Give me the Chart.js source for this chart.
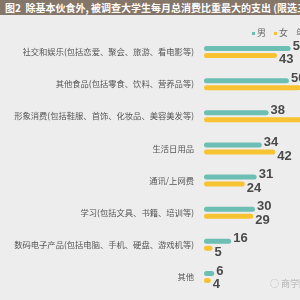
<!DOCTYPE html>
<html>
<head>
<meta charset="utf-8">
<script src="https://cdn.jsdelivr.net/npm/chart.js@4/dist/chart.umd.min.js"></script>
<style>
  html, body { margin: 0; padding: 0; width: 300px; height: 300px; overflow: hidden; background: #ededed; }
  #wrap { position: relative; width: 300px; height: 300px; overflow: hidden; }
  #title { position: absolute; left: 0; top: 0; width: 300px; height: 15px; background: #85766a; color: #fff;
    font: bold 10px "Noto Sans CJK SC", sans-serif; line-height: 15px; white-space: nowrap; overflow: hidden; padding-left: 5px; box-sizing: border-box; }
  #legend { position: absolute; top: 27px; left: 0; width: 300px; height: 12px; font: 9px "Noto Sans CJK SC", sans-serif; color: #666; white-space: nowrap; }
  .li { position: absolute; top: 0; line-height: 12px; }
  .sw { display: inline-block; width: 3px; height: 3px; margin-right: 2px; vertical-align: middle; }
  #wm { position: absolute; left: 270px; top: 277px; font: 9px "Noto Sans CJK SC", sans-serif; color: #b0b0b0; white-space: nowrap; }
  canvas { position: absolute; left: 0; top: 0; }
</style>
</head>
<body>
<div id="wrap">
  <canvas id="c" width="300" height="300"></canvas>
  <div id="title">图2&nbsp;&nbsp;除基本伙食外, 被调查大学生每月总消费比重最大的支出 (限选三项)</div>
  <div id="legend"></div>
  <div id="wm">◌ 商学院</div>
</div>
<script>
const categories = [
  "社交和娱乐(包括恋爱、聚会、旅游、看电影等)",
  "其他食品(包括零食、饮料、营养品等)",
  "形象消费(包括鞋服、首饰、化妆品、美容美发等)",
  "生活日用品",
  "通讯/上网费",
  "学习(包括文具、书籍、培训等)",
  "数码电子产品(包括电脑、手机、硬盘、游戏机等)",
  "其他"
];
const seriesNames = ["男", "女"];
const maleValues = [51, 50, 38, 34, 31, 30, 16, 6];
const femaleValues = [43, 57, 59, 42, 24, 29, 5, 4];
const seriesColors = ["#6cbfb2", "#f8c332"];
const unitLabel = "单位：%";

// HTML legend
const legend = document.getElementById('legend');
const legendX = [252, 274];
seriesNames.forEach((n, i) => {
  const s = document.createElement('span');
  s.className = 'li';
  s.style.left = legendX[i] + 'px';
  s.innerHTML = '<span class="sw" style="background:' + seriesColors[i] + '"></span>' + n;
  legend.appendChild(s);
});
const u = document.createElement('span');
u.className = 'li';
u.style.left = '296px';
u.textContent = unitLabel;
legend.appendChild(u);

const valueLabels = {
  id: 'valueLabels',
  afterDatasetsDraw(chart) {
    const ctx = chart.ctx;
    ctx.save();
    ctx.font = 'bold 13px "Liberation Sans", Arial, sans-serif';
    ctx.fillStyle = '#4a4a4a';
    ctx.textAlign = 'left';
    ctx.textBaseline = 'middle';
    chart.data.datasets.forEach((ds, di) => {
      const meta = chart.getDatasetMeta(di);
      meta.data.forEach((bar, i) => {
        const dy = di === 0 ? -2.5 : 4;
        ctx.fillText(String(ds.data[i]), bar.x + 2, bar.y + dy);
      });
    });
    ctx.restore();
  }
};

new Chart(document.getElementById('c'), {
  type: 'bar',
  data: {
    labels: categories,
    datasets: [
      { label: seriesNames[0], data: maleValues, backgroundColor: seriesColors[0] },
      { label: seriesNames[1], data: femaleValues, backgroundColor: seriesColors[1] }
    ]
  },
  options: {
    indexAxis: 'y',
    responsive: false,
    animation: false,
    devicePixelRatio: 1,
    categoryPercentage: 0.4375,
    barPercentage: 0.72,
    datasets: { bar: { borderRadius: 3, borderSkipped: false } },
    layout: { padding: { top: 36, bottom: 7, left: 0, right: 0 } },
    plugins: { legend: { display: false }, title: { display: false }, tooltip: { enabled: false } },
    scales: {
      x: { display: false, min: 0, max: 56.5 },
      y: {
        grid: { display: false },
        border: { display: false },
        ticks: { color: '#555', padding: 2, font: { size: 8.3, family: '"Noto Sans CJK SC", sans-serif' } },
        afterFit(scale) { scale.width = 204; }
      }
    }
  },
  plugins: [valueLabels]
});
</script>
</body>
</html>
